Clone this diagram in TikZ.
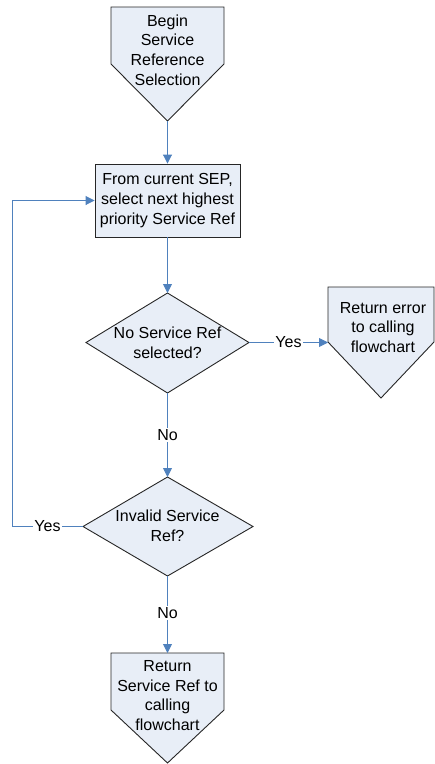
\documentclass[tikz,border=0pt]{standalone}
\usepackage{fontspec}
\setmainfont{Liberation Sans}
\usetikzlibrary{arrows.meta}
\definecolor{shfill}{HTML}{E8EEF7}
\definecolor{conn}{HTML}{4F81BD}
\tikzset{
  shapeline/.style={draw=black!85, line width=0.9pt, fill=shfill, line join=miter},
  txt/.style={align=center, font=\fontsize{16}{19.7}\selectfont, inner sep=0pt},
  procbox/.style={rectangle, shapeline, txt, minimum width=145pt, minimum height=73pt},
  connector/.style={draw=conn, line width=0.9pt, -{Triangle[length=9pt,width=9pt]}},
  plainconn/.style={draw=conn, line width=0.9pt},
  lbl/.style={fill=white, font=\fontsize{16}{19}\selectfont, inner sep=1pt}
}
\begin{document}
\begin{tikzpicture}[x=1pt,y=-1pt]
\useasboundingbox (0,0) rectangle (435,764);
% Begin off-page shape
\filldraw[shapeline] (111,7) -- (224,7) -- (224,64) -- (167.5,121) -- (111,64) -- cycle;
\coordinate (beginpt) at (167.5,121);
\node[txt] (begintxt) at (167.5,50) {Begin\\Service\\Reference\\Selection};
% process box
\node[procbox] (select) at (167.5,200.5) {From current SEP,\\select next highest\\priority Service Ref};
% decision 1
\coordinate (d1n) at (167.5,293);
\coordinate (d1e) at (249,342.5);
\coordinate (d1s) at (167.5,393);
\coordinate (d1w) at (86,342.5);
\filldraw[shapeline] (d1n) -- (d1e) -- (d1s) -- (d1w) -- cycle;
\node[txt] (noref) at (167.5,342.5) {No Service Ref\\selected?};
% error shape
\filldraw[shapeline] (328,287) -- (434,287) -- (434,342) -- (381,398) -- (328,342) -- cycle;
\coordinate (errin) at (328,342.5);
\node[txt] (errtxt) at (383,327.5) {Return error\\to calling\\flowchart};
% decision 2
\coordinate (d2n) at (167.5,477);
\coordinate (d2e) at (253,526.5);
\coordinate (d2s) at (167.5,576);
\coordinate (d2w) at (83,526.5);
\filldraw[shapeline] (d2n) -- (d2e) -- (d2s) -- (d2w) -- cycle;
\node[txt] (invalid) at (167.5,525.5) {Invalid Service\\Ref?};
% final shape
\filldraw[shapeline] (111,653) -- (224,653) -- (224,710) -- (167.5,763) -- (111,710) -- cycle;
\coordinate (finaltop) at (167.5,653);
\node[txt] (finaltxt) at (167.5,695.5) {Return\\Service Ref to\\calling\\flowchart};
% connectors
\draw[connector] (beginpt) -- (select.north);
\draw[connector] (select.south) -- (d1n);
\draw[connector] (d1e) -- (errin) node[lbl, pos=0.5] (yes1) {Yes};
\draw[connector] (d1s) -- (d2n) node[lbl, pos=0.5] (no1) {No};
\coordinate (loopbot) at (12,526.5);
\coordinate (looptop) at (12,200.5);
\draw[plainconn] (d2w) -- (loopbot) node[lbl, pos=0.5] (yes2) {Yes};
\draw[connector] (loopbot) -- (looptop) -- (select.west);
\draw[connector] (d2s) -- (finaltop) node[lbl, pos=0.48] (no2) {No};
\end{tikzpicture}
\end{document}
